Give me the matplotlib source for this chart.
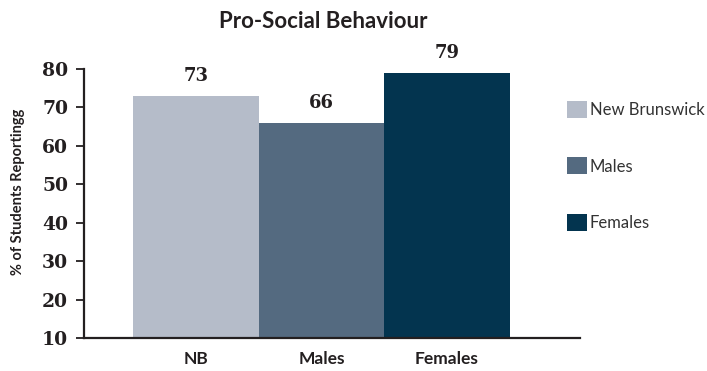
"""
Pro-social behaviour bar chart: NB overall vs. males vs. females
"""
import matplotlib
matplotlib.use("Agg")
from matplotlib import pyplot as plt
from matplotlib.patches import Patch

categories = ["NB", "Males", "Females"]
legend_labels = ["New Brunswick", "Males", "Females"]
values = [73, 66, 79]
y_ticks = [10, 20, 30, 40, 50, 60, 70, 80]

colors = ["#b5bcc9", "#546a80", "#03344f"]
ink = "#231f20"
sans = ["Lato", "DejaVu Sans"]
serif = ["DejaVu Serif"]


def main():
    fig = plt.figure(figsize=(7.07, 3.71), dpi=100)
    ax = fig.add_axes([84 / 707, 1 - 338 / 371, 496 / 707, 269 / 371])

    x = range(len(categories))
    bars = ax.bar(x, values, width=1.0, color=colors, bottom=0, zorder=1)

    ax.set_ylim(10, 80)
    ax.set_xlim(-0.892, 3.06)
    ax.set_yticks(y_ticks)
    ax.set_yticklabels([str(t) for t in y_ticks], fontfamily=serif,
                       fontweight="bold", fontsize=13.5, color=ink)
    ax.set_xticks(list(x))
    ax.set_xticklabels(categories, fontfamily=sans, fontweight="bold",
                       fontsize=12.5, color=ink)
    ax.tick_params(axis="x", length=0, pad=9)
    ax.tick_params(axis="y", length=5.5, width=1.3, color=ink, pad=6)

    for side in ("top", "right"):
        ax.spines[side].set_visible(False)
    for side in ("left", "bottom"):
        ax.spines[side].set_linewidth(1.6)
        ax.spines[side].set_color(ink)

    # value labels above each bar
    for bar, v in zip(bars, values):
        ax.annotate(str(v), (bar.get_x() + bar.get_width() / 2, v),
                    xytext=(0, 8), textcoords="offset points",
                    ha="center", va="bottom", fontfamily=serif,
                    fontweight="bold", fontsize=13, color=ink,
                    annotation_clip=False)

    ax.set_ylabel("% of Students Reportingg", fontfamily=sans,
                  fontweight="bold", fontsize=10.5, color=ink)
    ax.yaxis.set_label_coords(-0.118, 0.543)

    fig.text(323 / 707, 1 - 21 / 371, "Pro-Social Behaviour", ha="center",
             va="center", fontfamily=sans, fontweight="bold", fontsize=16,
             color=ink)

    handles = [Patch(facecolor=c, edgecolor="none") for c in colors]
    fig.legend(handles, legend_labels, loc="upper left",
               bbox_to_anchor=(567 / 707, 1 - 101 / 371), frameon=False,
               prop={"family": sans, "size": 12}, labelcolor="#333333",
               handlelength=1.2, handleheight=1.2, handletextpad=0.15,
               labelspacing=2.35, borderaxespad=0, borderpad=0)

    fig.savefig("out.png", dpi=100)


if __name__ == "__main__":
    main()
